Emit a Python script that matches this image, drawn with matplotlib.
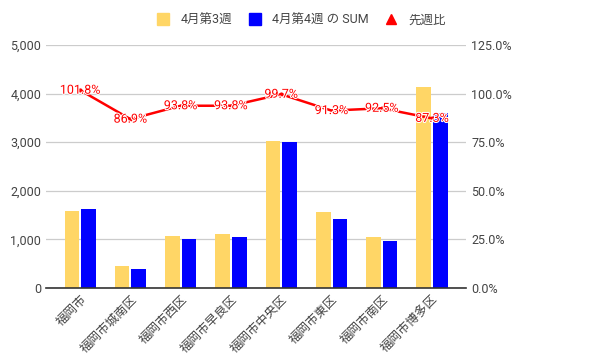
import matplotlib.pyplot as plt
import matplotlib.patheffects as pe
from matplotlib.lines import Line2D
from matplotlib.ticker import FuncFormatter, MultipleLocator
import numpy as np

plt.rcParams['font.family'] = ['Roboto', 'Noto Sans CJK JP', 'DejaVu Sans']

# Data
wards = ["福岡市", "福岡市城南区", "福岡市西区", "福岡市早良区", "福岡市中央区",
         "福岡市東区", "福岡市南区", "福岡市博多区"]
week3 = [1590, 450, 1070, 1110, 3020, 1560, 1045, 4130]
week4 = [1620, 391, 1004, 1041, 3011, 1424, 967, 3605]
ratio = [101.8, 86.9, 93.8, 93.8, 99.7, 91.3, 92.5, 87.3]

YELLOW = "#ffd666"
BLUE = "#0000ff"
RED = "#ff0000"
GRAY = "#444444"

fig = plt.figure(figsize=(5.97, 3.64), dpi=100)
ax = fig.add_axes([0.077, 0.209, 0.704, 0.667])
x = np.arange(len(wards))
w = 0.29
ax.bar(x - 0.165, week3, w, color=YELLOW, zorder=2)
ax.bar(x + 0.165, week4, w, color=BLUE, zorder=2)

ax.set_ylim(0, 5000)
ax.set_xlim(-0.68, 7.68)
ax.yaxis.set_major_locator(MultipleLocator(1000))
ax.yaxis.set_major_formatter(FuncFormatter(lambda v, p: f"{int(v):,}"))
ax.grid(axis="y", color="#cccccc", linewidth=0.9, zorder=0)
for s in ["top", "right", "left"]:
    ax.spines[s].set_visible(False)
ax.spines["bottom"].set_color("#333333")
ax.spines["bottom"].set_linewidth(1.2)
ax.tick_params(axis="both", length=0, colors=GRAY, labelsize=9)
ax.set_xticks(x)
ax.set_xticklabels(wards, rotation=45, ha="right", rotation_mode="anchor")

ax2 = ax.twinx()
ax2.set_ylim(0, 125)
ax2.yaxis.set_major_locator(MultipleLocator(25))
ax2.yaxis.set_major_formatter(FuncFormatter(lambda v, p: f"{v:.1f}%"))
for s in ax2.spines.values():
    s.set_visible(False)
ax2.tick_params(axis="y", length=0, colors=GRAY, labelsize=9)
ax2.plot(x, ratio, color=RED, linewidth=1.8, marker="o", markersize=2, zorder=3)
for xi, r in zip(x, ratio):
    ax2.text(xi, r, f"{r:.1f}%", color=RED, fontsize=9, ha="center", va="center",
             path_effects=[pe.withStroke(linewidth=1.5, foreground="white")], zorder=4)

handles = [
    Line2D([], [], marker="s", linestyle="none", color=YELLOW, markersize=8),
    Line2D([], [], marker="s", linestyle="none", color=BLUE, markersize=8),
    Line2D([], [], marker="^", linestyle="none", color=RED, markersize=7),
]
fig.legend(handles, ["4月第3週", "4月第4週 の SUM", "先週比"], loc="center",
           bbox_to_anchor=(0.5, 0.945), ncol=3, frameon=False, fontsize=9,
           handletextpad=0.4, columnspacing=0.8, labelcolor=GRAY)

fig.savefig("out.png", dpi=100)
